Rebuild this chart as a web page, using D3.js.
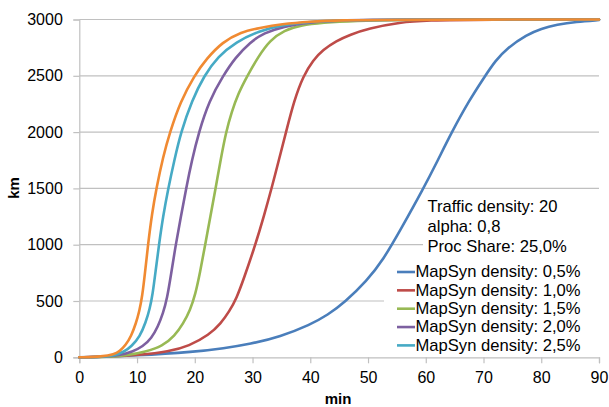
<!DOCTYPE html>
<html>
<head>
<meta charset="utf-8">
<script src="https://cdn.jsdelivr.net/npm/d3@7"></script>
<style>
  html, body { margin: 0; padding: 0; background: #fff; }
  svg { display: block; font-family: "Liberation Sans", Arial, sans-serif; }
</style>
</head>
<body>
<svg id="chart" width="609" height="407"></svg>
<script>
// Distance covered (km) over time (min) for several MapSyn densities
const xTicks = [0, 10, 20, 30, 40, 50, 60, 70, 80, 90];
const yTicks = [0, 500, 1000, 1500, 2000, 2500, 3000];

const density05 = [[0,0],[10,15],[20,48],[25,80],[29.6,118],[34.8,183],[40,290],[43,375],[46,490],[49.8,680],[52.6,864],[55.6,1130],[59.6,1500],[62,1740],[64.5,2000],[67.5,2280],[70.3,2500],[72,2630],[74.1,2747],[77.5,2865],[80,2920],[82.7,2954],[86,2980],[90,2995]];
const density10 = [[0,0],[5,5],[10.4,20],[15.5,50],[19,100],[22.5,200],[24.5,300],[26,410],[27.2,520],[28.5,700],[30.5,1000],[32,1260],[33.3,1500],[34.6,1760],[35.8,2000],[37.2,2280],[38.8,2500],[40.5,2640],[42.2,2730],[44.5,2810],[46.9,2865],[50,2920],[55.6,2975],[60,2992],[70,3000],[90,3000]];
const density15 = [[0,0],[5,4],[8,15],[11.5,50],[14.4,100],[16.5,190],[18,300],[19.2,420],[20.1,560],[20.9,750],[21.8,1000],[22.7,1250],[23.6,1500],[24.5,1760],[25.4,2000],[26.4,2180],[27.5,2340],[29.1,2500],[31,2670],[33,2815],[35.5,2905],[38.3,2947],[42,2972],[48,2990],[55,2997],[65,3000],[90,3000]];
const density20 = [[0,0],[4,3],[7,18],[9.2,50],[11,95],[12.5,170],[13.6,270],[14.5,390],[15.2,520],[15.9,740],[16.7,1000],[17.6,1250],[18.5,1500],[19.5,1750],[20.7,2000],[22.5,2280],[24.9,2500],[27,2660],[29.6,2800],[32,2880],[35.3,2938],[40,2975],[45,2990],[50,2997],[60,3000],[90,3000]];
const density25 = [[0,0],[4,4],[6,15],[7.8,50],[9,95],[10.5,185],[11.5,310],[12.2,430],[12.7,560],[13.2,760],[13.8,1000],[14.5,1250],[15.4,1500],[16.5,1760],[17.6,2000],[19.5,2280],[21.6,2500],[24,2670],[27.1,2800],[31.2,2900],[35,2950],[40,2980],[45,2993],[55,2999],[90,3000]];
const density30 = [[0,0],[4,6],[6,25],[7,55],[8,105],[9,190],[9.8,300],[10.4,410],[10.9,540],[11.4,760],[11.9,1000],[12.6,1280],[13.35,1500],[14.5,1780],[15.7,2000],[17.5,2270],[19.9,2500],[22,2650],[24.8,2800],[28,2890],[31.2,2925],[35,2960],[40,2982],[45,2993],[55,2999],[90,3000]];

const seriesNames = ["MapSyn density: 0,5%", "MapSyn density: 1,0%", "MapSyn density: 1,5%", "MapSyn density: 2,0%", "MapSyn density: 2,5%", "MapSyn density: 3,0%"];
const seriesData = [density05, density10, density15, density20, density25, density30];
const seriesColors = ["#4A7EBB", "#BE4B48", "#98B954", "#7D60A0", "#46AAC5", "#F08A32"];
const legendCount = 5;

const infoLines = ["Traffic density: 20", "alpha: 0,8", "Proc Share: 25,0%"];

const svg = d3.select("#chart");
const plotLeft = 79.3, plotRight = 599, plotTop = 19.5, plotBottom = 357.3;

const x = d3.scaleLinear().domain([0, 90]).range([plotLeft, plotRight]);
const y = d3.scaleLinear().domain([0, 3000]).range([plotBottom, plotTop]);

const gridColor = "#c0c0c0";

// horizontal gridlines
svg.append("g")
  .selectAll("line")
  .data(yTicks.filter(d => d > 0))
  .join("line")
  .attr("x1", plotLeft).attr("x2", plotRight)
  .attr("y1", d => y(d)).attr("y2", d => y(d))
  .attr("stroke", gridColor).attr("stroke-width", 1.2);

// axes
const xAxis = svg.append("g")
  .attr("transform", `translate(0,${plotBottom})`)
  .call(d3.axisBottom(x).tickValues(xTicks).tickSize(6).tickPadding(8).tickFormat(d3.format("d")));
const yAxis = svg.append("g")
  .attr("transform", `translate(${plotLeft},0)`)
  .call(d3.axisLeft(y).tickValues(yTicks).tickSize(6).tickPadding(10.5).tickFormat(d3.format("d")));

[xAxis, yAxis].forEach(g => {
  g.select(".domain").attr("stroke", gridColor).attr("stroke-width", 1.2);
  g.selectAll(".tick line").attr("stroke", gridColor).attr("stroke-width", 1.2);
  g.selectAll(".tick text")
    .attr("fill", "#000")
    .style("font-size", "16px")
    .style("font-family", "'Liberation Sans', Arial, sans-serif");
});

// axis titles
svg.append("text")
  .attr("x", 338).attr("y", 404)
  .attr("text-anchor", "middle")
  .style("font-size", "15px").style("font-weight", "bold")
  .text("min");
svg.append("text")
  .attr("transform", "translate(19,188) rotate(-90)")
  .attr("text-anchor", "middle")
  .style("font-size", "15px").style("font-weight", "bold")
  .text("km");

// series lines, smoothed
const line = d3.line()
  .x(d => x(d[0]))
  .y(d => y(d[1]))
  .curve(d3.curveBasis);

svg.append("g")
  .selectAll("path")
  .data(seriesData)
  .join("path")
  .attr("d", d => line(d))
  .attr("fill", "none")
  .attr("stroke", (d, i) => seriesColors[i])
  .attr("stroke-width", 2.6)
  .attr("stroke-linejoin", "round")
  .attr("stroke-linecap", "round");

// parameter box
svg.append("rect")
  .attr("x", 423).attr("y", 192).attr("width", 177).attr("height", 64)
  .attr("fill", "#fff");
svg.append("g")
  .selectAll("text")
  .data(infoLines)
  .join("text")
  .attr("x", 427.5)
  .attr("y", (d, i) => 211.7 + i * 20)
  .style("font-size", "16.6px")
  .attr("fill", "#000")
  .text(d => d);

// legend
svg.append("rect")
  .attr("x", 384).attr("y", 261).attr("width", 216).attr("height", 95.5)
  .attr("fill", "#fff");
const legend = svg.append("g")
  .selectAll("g")
  .data(d3.range(legendCount))
  .join("g")
  .attr("transform", i => `translate(0,${277.3 + i * 18.35})`);
legend.append("line")
  .attr("x1", 397).attr("x2", 415)
  .attr("y1", -5.3).attr("y2", -5.3)
  .attr("stroke", i => seriesColors[i])
  .attr("stroke-width", 2.6);
legend.append("text")
  .attr("x", 415.5).attr("y", 0)
  .style("font-size", "16.6px")
  .attr("fill", "#000")
  .text(i => seriesNames[i]);
</script>
</body>
</html>
